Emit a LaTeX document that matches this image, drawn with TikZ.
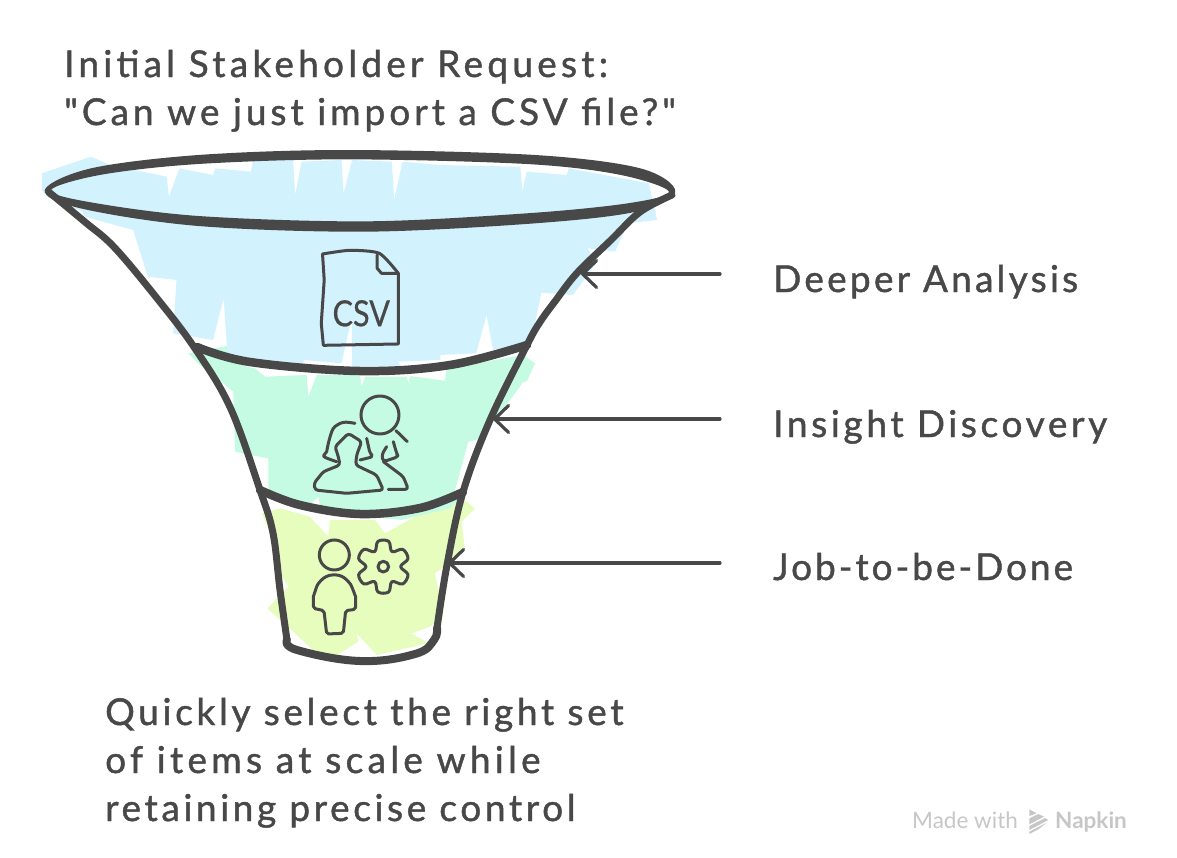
\documentclass[tikz,border=0pt]{standalone}
\usepackage{fontspec}
\setmainfont{Lato}[Ligatures=TeXOff]
\usetikzlibrary{arrows.meta}
\definecolor{ink}{HTML}{484848}
\definecolor{fblue}{HTML}{D2F3FD}
\definecolor{fgreen}{HTML}{C5FBE3}
\definecolor{fyellow}{HTML}{E6FDBD}
\definecolor{wmgray}{HTML}{C6C6C6}
\tikzset{
  body/.style={anchor=base west,inner sep=0pt,text=ink,font=\fontsize{37}{37}\selectfont\addfontfeature{LetterSpace=#1,FakeBold=1.2}},
  side/.style={draw=ink,line width=7pt,line cap=round,line join=round},
  ring/.style={draw=ink,line width=8.5pt,line cap=round},
  icon/.style={draw=ink,line width=3pt,line cap=round,line join=round},
  pointer/.style={draw=ink,line width=3.2pt,line cap=round,-{Straight Barb[length=14pt,width=27pt,line width=3.2pt,round]}},
  zoomA/.style={shift={(30,140)},x=0.4209pt,y=-0.3333pt},
  zoomB/.style={shift={(180,340)},x=0.3333pt,y=-0.3333pt},
  zoomC/.style={shift={(890,790)},x=0.3333pt,y=-0.3333pt}
}
\begin{document}
\begin{tikzpicture}[x=1pt,y=-1pt]
\useasboundingbox (0,0) rectangle (1177,857);
% fills
\begin{scope}[zoomB]
\fill[fyellow] (245,520)--(300,505)--(390,530)--(445,590)--(450,540)--(585,540)--(615,580)--(760,500)--(830,460)--(885,505)--(845,545)--(855,630)--(820,650)--(780,690)--(765,700)--(790,830)--(750,860)--(695,880)--(745,910)--(590,945)--(530,880)--(535,905)--(440,965)--(420,950)--(345,880)--(262,805)--(325,740)--(300,700)--(280,600)--cycle;
\fill[fgreen] (25,40)--(140,18)--(200,80)--(225,85)--(255,110)--(380,105)--(385,170)--(410,105)--(540,105)--(545,140)--(555,110)--(680,110)--(685,130)--(690,108)--(795,122)--(800,85)--(1030,45)--(1065,70)--(1040,125)--(1030,125)--(965,215)--(890,300)--(865,305)--(825,450)--(835,480)--(810,505)--(665,540)--(550,530)--(420,500)--(415,470)--(395,490)--(265,470)--(265,355)--(210,345)--(165,335)--(160,155)--(130,130)--(60,75)--cycle;
\end{scope}
\begin{scope}[zoomA]
\fill[fblue] (28,100)--(145,50)--(190,75)--(325,110)--(330,170)--(355,85)--(435,105)--(440,85)--(525,95)--(530,60)--(625,60)--(630,165)--(645,65)--(740,60)--(745,160)--(765,60)--(860,65)--(865,180)--(885,65)--(975,75)--(1165,80)--(1170,155)--(1180,95)--(1275,105)--(1280,85)--(1470,130)--(1490,240)--(1420,250)--(1390,335)--(1325,325)--(1345,370)--(1290,465)--(1215,458)--(1190,610)--(1100,630)--(1085,525)--(1060,640)--(975,645)--(975,660)--(875,665)--(880,680)--(765,680)--(765,530)--(740,670)--(650,660)--(650,672)--(470,660)--(460,475)--(435,600)--(340,580)--(348,420)--(280,410)--(245,270)--(130,230)--(125,215)--(40,170)--(28,150)--cycle;
% top ellipse, a tapered band
\fill[ink,even odd rule]
  plot[smooth cycle,tension=.55] coordinates {(35,150)(145,85)(400,45)(750,30)(1200,45)(1450,85)(1533,155)(1440,215)(1200,250)(800,275)(400,258)(120,205)}
  plot[smooth cycle,tension=.55] coordinates {(50,150)(170,104)(400,72)(750,58)(1180,72)(1400,104)(1518,155)(1420,190)(1180,220)(800,244)(400,228)(140,186)};
\end{scope}
% funnel sides
\draw[side] plot[smooth,tension=.6] coordinates {(50,193)(85,222)(114,247)(156,297)(194,347)(230,407)(260,490)(273,533)(280,590)(287,640)};
\draw[side] plot[smooth,tension=.6] coordinates {(672,195)(640,212)(611,240)(577,273)(556,300)(540,322)(527,345)(490,420)(463,492)(447,565)(437,628)};
% rings
\draw[ring] plot[smooth,tension=.6] coordinates {(197,347)(250,362)(360,371)(450,365)(527,345)};
\draw[ring] plot[smooth,tension=.6] coordinates {(260,490)(300,505)(360,514)(420,508)(463,492)};
\draw[side,line width=8pt] plot[smooth,tension=.7] coordinates {(287,640)(297,650)(360,661)(415,654)(434,640)(437,628)};
% csv icon
\begin{scope}[zoomA]
\draw[icon] plot[smooth,tension=.4] coordinates {(695,342)(760,331)(830,340)(875,400)} -- (875,612) -- (697,616) -- (692,550) -- (699,420) -- cycle;
\draw[icon] (825,345) -- (825,385) -- (835,400) -- (875,400);
\node[inner sep=0pt,text=ink,font=\fontsize{36}{36}\selectfont\addfontfeature{FakeBold=0.6},xscale=.85,transform shape] (csvtext) at (787,520) {CSV};
\end{scope}
% people icon
\begin{scope}[zoomB]
\draw[icon] (600,225) circle[radius=57];
\draw[icon] (648,272) -- (682,305);
\draw[icon] plot[smooth,tension=.5] coordinates {(525,250)(490,247)(460,265)(445,310)(440,335)(432,350)(470,365)};
\draw[icon,rounded corners=3pt] (465,320) -- (505,280) -- (545,305) -- (530,345) -- (527,375) -- (590,405) -- (610,450) -- (500,460) -- (405,450) -- (402,430) -- (430,395) -- (480,375) -- (475,350) -- cycle;
\draw[icon,rounded corners=3pt] (560,295) -- (570,340) -- (580,350) -- (540,360);
\draw[icon,rounded corners=3pt] (640,305) -- (650,340) -- (655,350) -- (610,365) -- (605,345) -- (620,320);
\draw[icon,rounded corners=3pt] (610,365) -- (670,410) -- (685,448) -- (625,448);
% person and gear
\draw[icon] (463,645) circle[radius=45];
\draw[icon,rounded corners=2pt] plot[smooth,tension=.7] coordinates {(400,775)(420,725)(463,705)(505,725)(527,775)} -- (527,808) -- (497,812) -- (490,880) -- (440,882) -- (432,812) -- (400,805) -- cycle;
\draw[icon] plot[smooth cycle,tension=.6] coordinates {(594,604)(626,604)(636,635)(668,628)(684,656)(662,680)(684,704)(668,732)(636,725)(626,756)(594,756)(584,725)(552,732)(536,704)(558,680)(536,656)(552,628)(584,635)};
\draw[icon] (610,680) circle[radius=16];
\end{scope}
% labels
\node[body=11.5] (title1) at (64,77) {Initial Stakeholder Request:};
\node[body=10.8] (title2) at (64,125) {"Can we just import a CSV file?"};
\node[body=8.8] (deeper) at (773,292) {Deeper Analysis};
\node[body=9.9] (insight) at (773,437) {Insight Discovery};
\node[body=8] (job) at (773,580) {Job-to-be-Done};
\node[body=10] (foot1) at (105,725) {Quickly select the right set};
\node[body=11.6] (foot2) at (105,773) {of items at scale while};
\node[body=9.8] (foot3) at (105,821) {retaining precise control};
% arrows
\coordinate (startA) at (720,274);
\coordinate (tipA) at (581,274);
\coordinate (startB) at (720,419);
\coordinate (tipB) at (493,419);
\coordinate (startC) at (720,563);
\coordinate (tipC) at (448,563);
\draw[pointer] (startA) -- (tipA);
\draw[pointer] (startB) -- (tipB);
\draw[pointer] (startC) -- (tipC);
% watermark
\node[anchor=base west,inner sep=0pt,text=wmgray,font=\fontsize{22.5}{22.5}\selectfont] (made) at (912,828) {Made with};
\node[anchor=base west,inner sep=0pt,text=wmgray,font=\bfseries\fontsize{22.5}{22.5}\selectfont] (napkin) at (1055,828) {Napkin};
\begin{scope}[zoomC]
\fill[wmgray] (418,58)--(440,70)--(418,78)--cycle;
\fill[wmgray] (418,85)--(445,72)--(462,80)--(418,103)--cycle;
\fill[wmgray] (418,108)--(465,84)--(475,90)--(418,120)--cycle;
\fill[wmgray] (418,125)--(470,98)--(445,118)--(418,132)--cycle;
\end{scope}
\end{tikzpicture}
\end{document}
